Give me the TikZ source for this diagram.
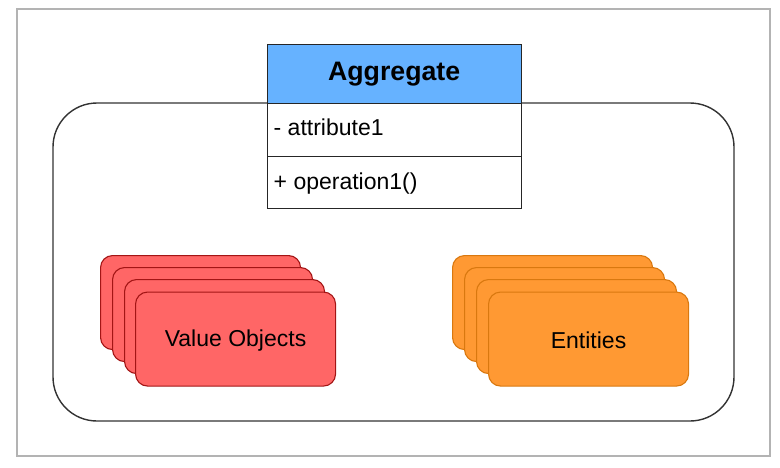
\documentclass[tikz,border=0pt]{standalone}
\usepackage{fontspec}
\setmainfont{Liberation Sans}
\definecolor{framegray}{HTML}{B3B3B3}
\definecolor{hdrblue}{HTML}{66B2FF}
\definecolor{redfill}{HTML}{FF6666}
\definecolor{redline}{HTML}{A31515}
\definecolor{orfill}{HTML}{FF9933}
\definecolor{orline}{HTML}{D9780F}
\begin{document}
\begin{tikzpicture}[x=1pt,y=-1pt,
  frame/.style={draw=framegray,line width=1.6pt},
  container/.style={draw=black!80,line width=1.4pt,rounded corners=44pt},
  classpart/.style={draw=black!85,line width=1.3pt},
  card/.style={rounded corners=12pt,line width=1.1pt,minimum width=200pt,minimum height=94pt,inner sep=0pt},
  redcard/.style={card,draw=redline,fill=redfill},
  orcard/.style={card,draw=orline,fill=orfill},
  lbl/.style={font=\fontsize{23}{27}\selectfont,inner sep=0pt},
]
\useasboundingbox (0,0) rectangle (780,467);
\draw[frame] (17,9) rectangle (770,456);
% container
\draw[container] (53,103) rectangle (734,421);
% class box
\node[classpart,fill=hdrblue,minimum width=254pt,minimum height=59pt,anchor=north west,inner sep=0pt] (hdr) at (266.5,44) {};
\node[font=\fontsize{26.7}{30}\selectfont\bfseries] (hdrtxt) at (hdr.center) {Aggregate};
\node[classpart,fill=white,minimum width=254pt,minimum height=53pt,anchor=north west,inner sep=0pt] (attr) at (266.5,103) {};
\node[lbl,anchor=west] (attrtxt) at ([xshift=7pt,yshift=3pt]attr.west) {- attribute1};
\node[classpart,fill=white,minimum width=254pt,minimum height=52pt,anchor=north west,inner sep=0pt] (ops) at (266.5,156) {};
\node[lbl,anchor=west] (opstxt) at ([xshift=7pt,yshift=-1pt]ops.west) {+ operation1()};
% value objects
\node[redcard,anchor=north west] (v1) at (100,255) {};
\node[redcard,anchor=north west] (v2) at (112,267) {};
\node[redcard,anchor=north west] (v3) at (124,279) {};
\node[redcard,anchor=north west] (v4) at (135,291.5) {};
\node[lbl] (vtxt) at ([yshift=-1pt]v4.center) {Value Objects};
% entities
\node[orcard,anchor=north west] (e1) at (452,255) {};
\node[orcard,anchor=north west] (e2) at (464,267) {};
\node[orcard,anchor=north west] (e3) at (476,279) {};
\node[orcard,anchor=north west] (e4) at (488,291.5) {};
\node[lbl] (etxt) at ([yshift=-1pt]e4.center) {Entities};
\end{tikzpicture}
\end{document}
